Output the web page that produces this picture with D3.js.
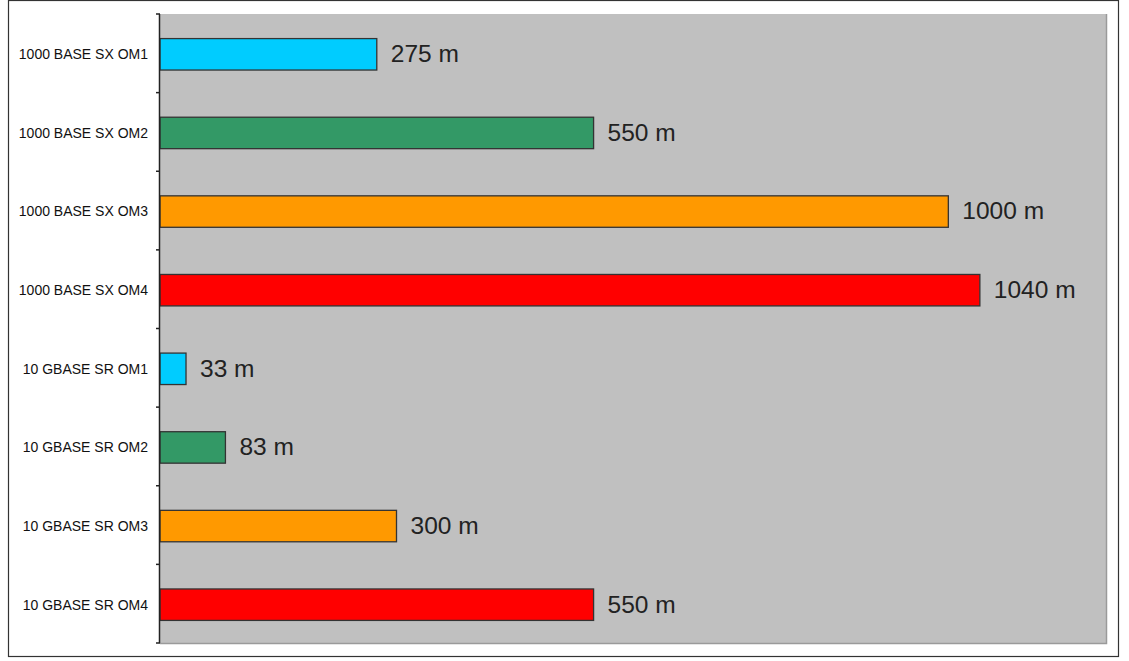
<!DOCTYPE html>
<html><head><meta charset="utf-8">
<script src="https://cdn.jsdelivr.net/npm/d3@7"></script>
<style>body{margin:0;background:#fff;}svg{display:block;}</style>
</head><body>
<svg id="c" width="1129" height="661"></svg>
<script>
const categories = ["1000 BASE SX OM1","1000 BASE SX OM2","1000 BASE SX OM3","1000 BASE SX OM4","10 GBASE SR OM1","10 GBASE SR OM2","10 GBASE SR OM3","10 GBASE SR OM4"];
const values = [275, 550, 1000, 1040, 33, 83, 300, 550];
const valueLabels = ["275 m","550 m","1000 m","1040 m","33 m","83 m","300 m","550 m"];
const colors = ["#00ccff","#339966","#ff9900","#ff0000","#00ccff","#339966","#ff9900","#ff0000"];

const svg = d3.select("#c");
const L = 160, R = 1106, T = 14, B = 643;

svg.append("rect").attr("x",8.5).attr("y",0.5).attr("width",1110).attr("height",656)
  .attr("fill","#fff").attr("stroke","#333").attr("stroke-width",1.2);

svg.append("rect").attr("x",L).attr("y",T).attr("width",R-L).attr("height",B-T)
  .attr("fill","#c0c0c0");
svg.append("path").attr("d",`M${R+0.5},${T}V${B+0.5}H${L}`).attr("fill","none").attr("stroke","#9a9a9a").attr("stroke-width",1.5);

const x = d3.scaleLinear().domain([0,1200]).range([L,R]);
const y = d3.scaleBand().domain(categories).range([T+1,B+1]).paddingInner(0.6).paddingOuter(0.3);

svg.selectAll("rect.bar").data(values).enter().append("rect").attr("class","bar")
  .attr("x",x(0)).attr("y",(d,i)=>y(categories[i]))
  .attr("width",d=>x(d)-x(0)).attr("height",y.bandwidth())
  .attr("fill",(d,i)=>colors[i]).attr("stroke","#333").attr("stroke-width",1.3);

svg.selectAll("text.val").data(values).enter().append("text").attr("class","val")
  .attr("x",d=>x(d)+14).attr("y",(d,i)=>y(categories[i])+y.bandwidth()/2-1)
  .attr("dy","0.36em").attr("font-family","Liberation Sans, Arial, sans-serif")
  .attr("font-size",24.5).attr("fill","#222").text((d,i)=>valueLabels[i]);

// axis
const step = (B-T)/categories.length;
const g = svg.append("g");
g.append("line").attr("x1",L-0.5).attr("x2",L-0.5).attr("y1",T).attr("y2",B).attr("stroke","#222").attr("stroke-width",1.5);
const bounds = d3.range(categories.length+1).map(i=>T+i*step);
g.selectAll("line.tk").data(bounds).enter().append("line").attr("class","tk")
  .attr("x1",L-4).attr("x2",L).attr("y1",d=>d).attr("y2",d=>d).attr("stroke","#222").attr("stroke-width",1.5);
g.selectAll("text.cat").data(categories).enter().append("text").attr("class","cat")
  .attr("x",148).attr("y",d=>y(d)+y.bandwidth()/2).attr("dy","0.35em")
  .attr("text-anchor","end").attr("font-family","Liberation Sans, Arial, sans-serif")
  .attr("font-size",14).attr("fill","#111").text(d=>d);
</script>
</body></html>
